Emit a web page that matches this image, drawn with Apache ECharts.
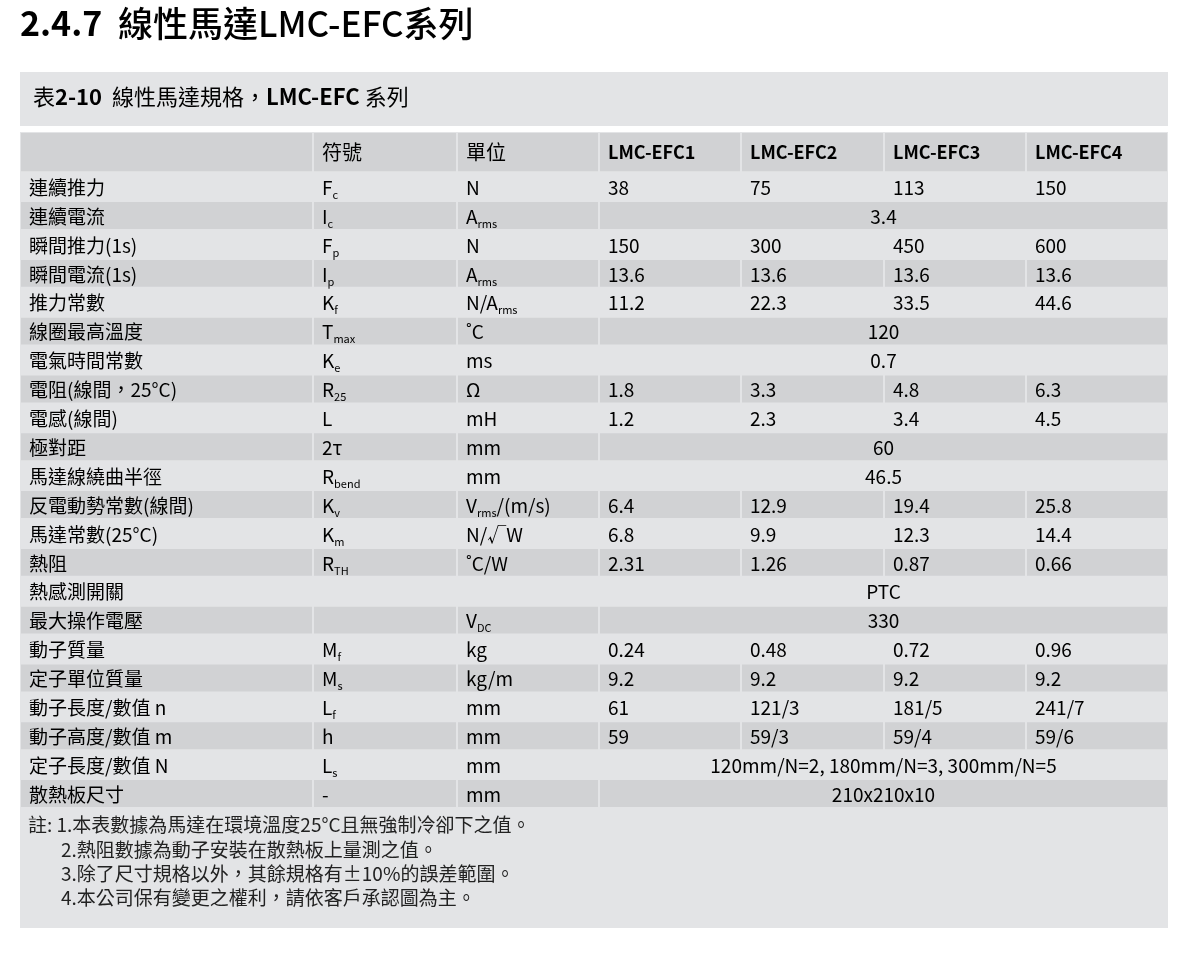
<!DOCTYPE html>
<html><head><meta charset="utf-8">
<script src="https://cdn.jsdelivr.net/npm/echarts@6/dist/echarts.min.js"></script>
<style>html,body{margin:0;padding:0;background:#fff}#c{width:1179px;height:979px}</style>
</head><body><div id="c"></div>
<script>
const headers = ['', '符號', '單位', 'LMC-EFC1', 'LMC-EFC2', 'LMC-EFC3', 'LMC-EFC4'];
const labels = ['連續推力','連續電流','瞬間推力(1s)','瞬間電流(1s)','推力常數','線圈最高溫度','電氣時間常數','電阻(線間，25°C)','電感(線間)','極對距','馬達線繞曲半徑','反電動勢常數(線間)','馬達常數(25°C)','熱阻','熱感測開關','最大操作電壓','動子質量','定子單位質量','動子長度/數值 n','動子高度/數值 m','定子長度/數值 N','散熱板尺寸'];
const symbols = [['F','c'],['I','c'],['F','p'],['I','p'],['K','f'],['T','max'],['K','e'],['R','25'],['L',''],['2τ',''],['R','bend'],['K','v'],['K','m'],['R','TH'],['',''],['',''],['M','f'],['M','s'],['L','f'],['h',''],['L','s'],['-','']];
const units = [['N',''],['A','rms'],['N',''],['A','rms'],['N/A','rms'],['˚C',''],['ms',''],['Ω',''],['mH',''],['mm',''],['mm',''],['V','rms','/(m/s)'],['N/√W',''],['˚C/W',''],['',''],['V','DC'],['kg',''],['kg/m',''],['mm',''],['mm',''],['mm',''],['mm','']];
const values = [
 ['38','75','113','150'],['3.4'],['150','300','450','600'],['13.6','13.6','13.6','13.6'],
 ['11.2','22.3','33.5','44.6'],['120'],['0.7'],['1.8','3.3','4.8','6.3'],['1.2','2.3','3.4','4.5'],
 ['60'],['46.5'],['6.4','12.9','19.4','25.8'],['6.8','9.9','12.3','14.4'],['2.31','1.26','0.87','0.66'],
 ['PTC'],['330'],['0.24','0.48','0.72','0.96'],['9.2','9.2','9.2','9.2'],['61','121/3','181/5','241/7'],
 ['59','59/3','59/4','59/6'],['120mm/N=2, 180mm/N=3, 300mm/N=5'],['210x210x10']];
const notes = ['註: 1.本表數據為馬達在環境溫度25°C且無強制冷卻下之值。','2.熱阻數據為動子安裝在散熱板上量測之值。','3.除了尺寸規格以外，其餘規格有±10%的誤差範圍。','4.本公司保有變更之權利，請依客戶承認圖為主。'];

const edges = [0,293,437,579,721,864,1006,1148];
const HH = 1.39;
const FONT = '"Noto Sans CJK TC","Noto Sans",sans-serif';
const rich = {a:{fontSize:19,fontFamily:FONT,color:'#222'},s:{fontSize:11,fontFamily:FONT,color:'#222',verticalAlign:'bottom',padding:[14,0,0,0]}};
function rt(p){ if(!p[0]) return ''; let s='{a|'+p[0]+'}'; if(p[1]) s+='{s|'+p[1]+'}'; if(p[2]) s+='{a|'+p[2]+'}'; return s; }

function renderItem(params, api){
  const r = api.value(0);
  const isHead = r < 0;
  const yTop = isHead ? 0 : HH + r, yBot = isHead ? HH : HH + r + 1;
  const y0 = api.coord([0,yTop])[1], y1 = api.coord([0,yBot])[1];
  const X = edges.map(e=>api.coord([e,0])[0]);
  const fill = isHead ? '#d1d2d4' : (r%2===1 ? '#d1d2d4' : '#e3e4e6');
  const ch = [];
  let cells;
  if(isHead){ cells = headers.map((h,i)=>({x0:i,x1:i+1,t:h?(i<3?'{h2|'+h+'}':'{h|'+h+'}'):'',c:false})); }
  else {
    const v = values[r];
    cells = [{x0:0,x1:1,t:'{a|'+labels[r]+'}'},{x0:1,x1:2,t:rt(symbols[r])},{x0:2,x1:3,t:rt(units[r])}];
    if(v.length===1) cells.push({x0:3,x1:7,t:'{a|'+v[0]+'}',c:true});
    else v.forEach((s,i)=>cells.push({x0:3+i,x1:4+i,t:'{a|'+s+'}'}));
  }
  cells.forEach(c=>{
    const xa=X[c.x0]+1, xb=X[c.x1]-1;
    ch.push({type:'rect',shape:{x:xa,y:y0+1,width:xb-xa,height:y1-y0-2},style:{fill:fill}});
    if(c.t) ch.push({type:'text',style:{text:c.t,x:c.c?(xa+xb)/2:xa+8,y:(y0+y1)/2+(isHead?0:1),align:c.c?'center':'left',verticalAlign:'middle',rich:Object.assign({h:{fontSize:18,fontWeight:'bold',fontFamily:FONT,color:'#1c7aa6'},h2:{fontSize:20,fontFamily:FONT,color:'#1c7aa6'}},rich)}});
  });
  return {type:'group',children:ch};
}

const rowsData = [[-1]].concat(labels.map((_,i)=>[i]));
const chart = echarts.init(document.getElementById('c'));
chart.setOption({
  animation:false,
  graphic:[
    {type:'text',left:20,top:6,style:{text:'{n|2.4.7}{t|  線性馬達LMC-EFC系列}',rich:{n:{fontSize:34,fontWeight:'bold',fontFamily:FONT,color:'#333'},t:{fontSize:35,fontWeight:500,fontFamily:FONT,color:'#333'}}}},
    {type:'rect',z:-10,shape:{x:20,y:72,width:1148,height:856},style:{fill:'#e3e4e6'}},
    {type:'text',left:33,top:86,style:{text:'{g|表}{b|2-10}{c|  線性馬達規格，}{d|LMC-EFC}{c| 系列}',rich:{g:{fontSize:22,fontFamily:FONT,color:'#777'},b:{fontSize:22,fontWeight:'bold',fontFamily:FONT,color:'#777'},c:{fontSize:22,fontFamily:FONT,color:'#222'},d:{fontSize:22,fontWeight:'bold',fontFamily:FONT,color:'#222'}}}},
    {type:'rect',shape:{x:20,y:126,width:1148,height:6},style:{fill:'#ffffff'}},
    {type:'text',left:28,top:815,style:{text:notes[0],fontSize:19,fontFamily:FONT,fill:'#222'}},
    {type:'text',left:61,top:840,style:{text:notes[1],fontSize:19,fontFamily:FONT,fill:'#222'}},
    {type:'text',left:61,top:864,style:{text:notes[2],fontSize:19,fontFamily:FONT,fill:'#222'}},
    {type:'text',left:61,top:888,style:{text:notes[3],fontSize:19,fontFamily:FONT,fill:'#222'}}
  ],
  grid:{left:20,right:11,top:132,bottom:171},
  xAxis:{type:'value',min:0,max:1148,show:false},
  yAxis:{type:'value',min:0,max:HH+labels.length,inverse:true,show:false},
  series:[{type:'custom',renderItem:renderItem,data:rowsData,encode:{x:-1,y:0},clip:false}]
});
</script></body></html>
